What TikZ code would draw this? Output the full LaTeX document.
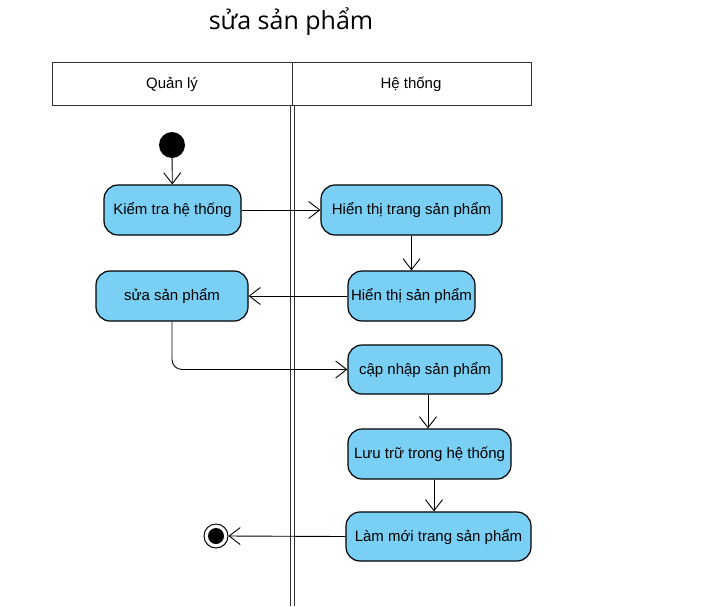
\documentclass[tikz,border=0pt]{standalone}
\usepackage{fontspec}
\setmainfont{Liberation Sans}
\newfontfamily\titlefont{Open Sans}
\usetikzlibrary{arrows.meta}
\definecolor{actfill}{RGB}{122,207,244}
\tikzset{
  act/.style={draw=black, line width=1.2pt, fill=actfill, rounded corners=14pt, inner sep=0pt, font=\fontsize{15}{17}\selectfont},
  flow/.style={draw=black, line width=0.9pt, -{Straight Barb[length=11pt,width=17pt,line width=0.9pt]}},
  lane/.style={draw=black!80, line width=1pt},
}
\begin{document}
\begin{tikzpicture}[x=1pt,y=-1pt]
\useasboundingbox (0,0) rectangle (727,606);
\node[font=\titlefont\fontsize{25}{29}\selectfont] (title) at (291,22) {sửa sản phẩm};
% swimlane header
\draw[lane] (52,62) rectangle (531,105);
\draw[lane] (292,62) -- (292,105);
\node[font=\fontsize{15}{17}\selectfont] (lane1) at (172,84) {Quản lý};
\node[font=\fontsize{15}{17}\selectfont] (lane2) at (411,84) {Hệ thống};
% double separator
\draw[lane, line width=0.9pt] (290,105) -- (290,606);
\draw[lane, line width=0.9pt] (294,105) -- (294,606);
% start
\node[circle, fill=black, minimum size=26pt, inner sep=0pt] (start) at (172,145) {};
% activities
\node[act, minimum width=137pt, minimum height=50pt] (kt) at (172.5,210) {Kiểm tra hệ thống};
\node[act, minimum width=181pt, minimum height=50pt] (httsp) at (411.5,210) {Hiển thị trang sản phẩm};
\node[act, minimum width=127pt, minimum height=50pt] (htsp) at (411.5,296) {Hiển thị sản phẩm};
\node[act, minimum width=152pt, minimum height=50pt] (ssp) at (172,296) {sửa sản phẩm};
\node[act, minimum width=154pt, minimum height=49pt] (cnsp) at (425,369.5) {cập nhập sản phẩm};
\node[act, minimum width=163pt, minimum height=50pt] (lt) at (429.5,454) {Lưu trữ trong hệ thống};
\node[act, minimum width=185pt, minimum height=49pt] (lm) at (438.5,536.5) {Làm mới trang sản phẩm};
% end
\node[circle, draw=black, line width=1pt, fill=white, minimum size=24pt, inner sep=0pt] (end) at (216,536) {};
\node[circle, fill=black, minimum size=16pt, inner sep=0pt] (endin) at (end) {};
% flows
\draw[flow] (start) -- (kt);
\draw[flow] (kt.east) -- (httsp.west);
\draw[flow] (httsp.south) -- (htsp.north);
\draw[flow] (htsp.west) -- (ssp.east);
\draw[flow, rounded corners=10pt] (ssp.south) |- (cnsp.west);
\draw[flow] (cnsp.south -| 428,0) -- (lt.north -| 428,0);
\draw[flow] (lt.south -| 434,0) -- (lm.north -| 434,0);
\draw[flow] (lm.west) -- (end.east);
\end{tikzpicture}
\end{document}
